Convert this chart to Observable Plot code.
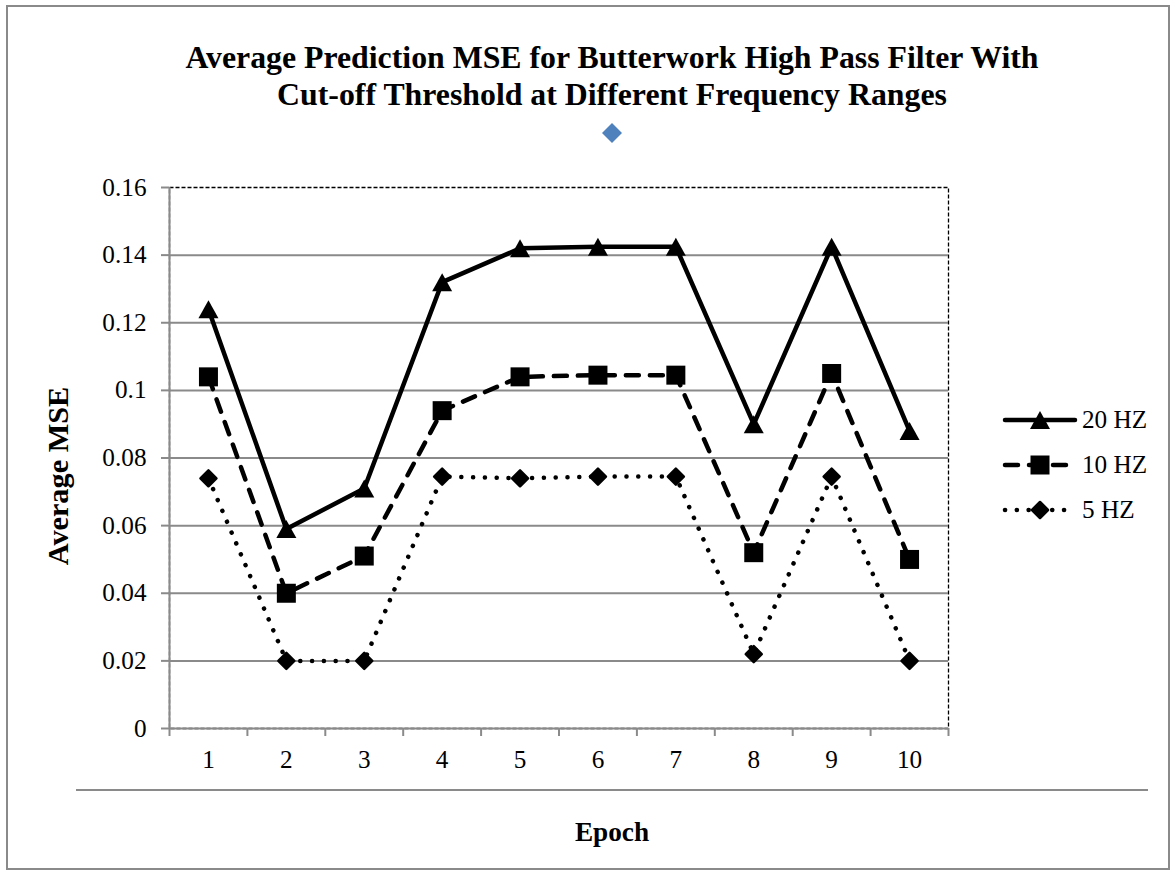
<!DOCTYPE html>
<html>
<head>
<meta charset="utf-8">
<script src="https://cdn.jsdelivr.net/npm/d3@7"></script>
<script src="https://cdn.jsdelivr.net/npm/@observablehq/plot@0.6"></script>
<style>
  html, body { margin: 0; padding: 0; background: #fff; }
  #chart { position: relative; width: 1175px; height: 875px; background: #fff; }
  #outline { position: absolute; left: 6px; top: 5px; width: 1164px; height: 865px; border: 2px solid #8a8a8a; box-sizing: border-box; }
  #title { position: absolute; left: 112px; width: 1000px; text-align: center; font-weight: bold; color: #000; white-space: nowrap; }
  #plot { position: absolute; left: 0; top: 0; }
  #baseline { position: absolute; left: 76px; top: 789px; width: 1072px; height: 2px; background: #8a8a8a; }
  #legend, #marker { position: absolute; left: 0; top: 0; overflow: visible; }
</style>
</head>
<body>
<div id="chart">
  <div id="outline"></div>
  <div id="title">Average Prediction MSE for Butterwork High Pass Filter With<br>Cut-off Threshold at Different Frequency Ranges</div>
  <div id="plot"></div>
  <div id="baseline"></div>
  <svg id="marker" width="1175" height="875"><path d="M612,123L622,133L612,143L602,133Z" fill="#4f81bd"/></svg>
  <svg id="legend" width="1175" height="875"></svg>
</div>
<script>
// Epochs on the x axis
const epochs = [1, 2, 3, 4, 5, 6, 7, 8, 9, 10];

// Average MSE per epoch for each cut-off frequency
const mse20 = [0.124, 0.059, 0.071, 0.132, 0.142, 0.1425, 0.1425, 0.090, 0.1425, 0.088];
const mse10 = [0.104, 0.040, 0.051, 0.094, 0.104, 0.1045, 0.1045, 0.052, 0.105, 0.050];
const mse5  = [0.074, 0.020, 0.020, 0.0745, 0.074, 0.0745, 0.0745, 0.022, 0.0745, 0.020];

const seriesNames = ["20 HZ", "10 HZ", "5 HZ"];
const yTicks = [0, 0.02, 0.04, 0.06, 0.08, 0.1, 0.12, 0.14, 0.16];
const titleLines = ["Average Prediction MSE for Butterwork High Pass Filter With", "Cut-off Threshold at Different Frequency Ranges"];

// Pick the first installed Times-like serif face
const canvas = document.createElement("canvas").getContext("2d");
function widthOf(text, font) { canvas.font = font; return canvas.measureText(text).width; }
const probe = "Average Prediction MSE 0123456789 mmmwwwiiilll";
const candidates = ["Liberation Serif", "Times New Roman", "Tinos", "Nimbus Roman", "Nimbus Roman No9 L", "FreeSerif", "Noto Serif", "DejaVu Serif"];
const baseMono = widthOf(probe, "100px monospace");
const baseSans = widthOf(probe, "100px sans-serif");
const serifName = candidates.find(name => {
  const w1 = widthOf(probe, `100px "${name}", monospace`);
  const w2 = widthOf(probe, `100px "${name}", sans-serif`);
  return Math.abs(w1 - baseMono) > 0.5 && Math.abs(w2 - baseSans) > 0.5;
}) || "serif";
const fontFamily = serifName === "serif" ? "serif" : `"${serifName}", serif`;

// Scale type sizes so the first title line spans about 855px
const titleWidth100 = widthOf(titleLines[0], `bold 100px ${fontFamily}`);
const titleSize = 855 / titleWidth100 * 100;
const k = titleSize / 31.5;
const tickSize = 25 * k, yTitleSize = 30 * k, xTitleSize = 27 * k, legendSize = 25 * k;

const titleEl = document.getElementById("title");
titleEl.style.fontFamily = fontFamily;
titleEl.style.fontSize = titleSize + "px";
titleEl.style.lineHeight = "37px";
titleEl.style.top = (70 - (37 - titleSize) / 2 - 0.891 * titleSize) + "px";

// Marker shapes centred on their bounding box
const triangleUp = {draw(ctx, size) { const r = Math.sqrt(size / Math.PI); ctx.moveTo(0, -0.9 * r); ctx.lineTo(r, 0.9 * r); ctx.lineTo(-r, 0.9 * r); ctx.closePath(); }};
const squareMk = {draw(ctx, size) { const r = Math.sqrt(size / Math.PI); ctx.rect(-r, -r, 2 * r, 2 * r); }};
const diamondMk = {draw(ctx, size) { const r = Math.sqrt(size / Math.PI); ctx.moveTo(0, -r); ctx.lineTo(r, 0); ctx.lineTo(0, r); ctx.lineTo(-r, 0); ctx.closePath(); }};

const styles = {
  "20 HZ": {dash: null, symbol: triangleUp, r: 10, outline: 0},
  "10 HZ": {dash: "13 11", symbol: squareMk, r: 9.5, outline: 0},
  "5 HZ":  {dash: "0.1 11.7", symbol: diamondMk, r: 8, outline: 2.5}
};

const rows = [mse20, mse10, mse5].flatMap((vals, i) =>
  epochs.map((e, j) => ({epoch: e, mse: vals[j], series: seriesNames[i]}))
);

const gray = "#8a8a8a";
const bounds = [...epochs.map(e => e - 0.5), epochs[epochs.length - 1] + 0.5];

const seriesMarks = seriesNames.flatMap(name => {
  const s = styles[name];
  const data = rows.filter(d => d.series === name);
  return [
    Plot.line(data, {x: "epoch", y: "mse", stroke: "black", strokeWidth: 4.5,
      strokeDasharray: s.dash, strokeLinecap: "round", strokeLinejoin: "round"}),
    Plot.dot(data, {x: "epoch", y: "mse", symbol: () => s.symbol, r: s.r, fill: "black",
      stroke: s.outline ? "black" : "none", strokeWidth: s.outline, strokeLinejoin: "round"})
  ];
});

const chart = Plot.plot({
  width: 1175,
  height: 875,
  marginLeft: 169,
  marginRight: 227,
  marginTop: 187,
  marginBottom: 147,
  style: {fontFamily, fontSize: tickSize + "px", color: "black", background: "transparent", overflow: "visible"},
  x: {domain: [bounds[0], bounds[bounds.length - 1]]},
  y: {domain: [yTicks[0], yTicks[yTicks.length - 1]]},
  symbol: {type: "identity"},
  marks: [
    Plot.frame({stroke: "black", strokeWidth: 1.3, strokeDasharray: "4 2"}),
    Plot.ruleY(yTicks.slice(1, -1), {stroke: gray, strokeWidth: 2}),
    Plot.ruleX([bounds[0]], {stroke: gray, strokeWidth: 2}),
    Plot.ruleY([yTicks[0]], {stroke: gray, strokeWidth: 2}),
    Plot.axisY({ticks: yTicks, tickSize: 8, tickPadding: 15, stroke: gray, strokeWidth: 2,
      tickFormat: d => String(+d.toFixed(2)), label: null}),
    Plot.axisX({ticks: bounds, tickSize: 8, stroke: gray, strokeWidth: 2, tickFormat: () => "", label: null}),
    Plot.axisX({ticks: epochs, tickSize: 0, tickPadding: 22, tickFormat: d => String(d), label: null}),
    // Axis titles; the x title is centred under the whole chart, like the main title
    Plot.text(["Average MSE"], {frameAnchor: "left", rotate: -90, dx: -111, dy: 18, textAnchor: "middle",
      fontWeight: "bold", fontSize: yTitleSize, lineAnchor: "middle"}),
    Plot.text(["Epoch"], {frameAnchor: "bottom", dx: 53, dy: 104, textAnchor: "middle",
      fontWeight: "bold", fontSize: xTitleSize, lineAnchor: "middle"}),
    ...seriesMarks
  ]
});
document.getElementById("plot").appendChild(chart);

// Legend: line sample with marker, then series name
const legend = d3.select("#legend");
const legendX0 = 1003, legendX1 = 1077, legendTop = 420, legendGap = 45;
seriesNames.forEach((name, i) => {
  const s = styles[name];
  const y = legendTop + i * legendGap;
  const g = legend.append("g");
  g.append("line").attr("x1", legendX0 + 2).attr("x2", legendX1 - 2).attr("y1", y).attr("y2", y)
    .attr("stroke", "black").attr("stroke-width", 4.5)
    .attr("stroke-dasharray", s.dash).attr("stroke-linecap", "round");
  g.append("path").attr("transform", `translate(${(legendX0 + legendX1) / 2},${y})`)
    .attr("d", d3.symbol(s.symbol, Math.PI * s.r * s.r)()).attr("fill", "black")
    .attr("stroke", s.outline ? "black" : "none").attr("stroke-width", s.outline).attr("stroke-linejoin", "round");
  g.append("text").attr("x", legendX1 + 5).attr("y", y + 8)
    .attr("font-size", legendSize).attr("font-family", fontFamily)
    .text(name);
});
</script>
</body>
</html>
